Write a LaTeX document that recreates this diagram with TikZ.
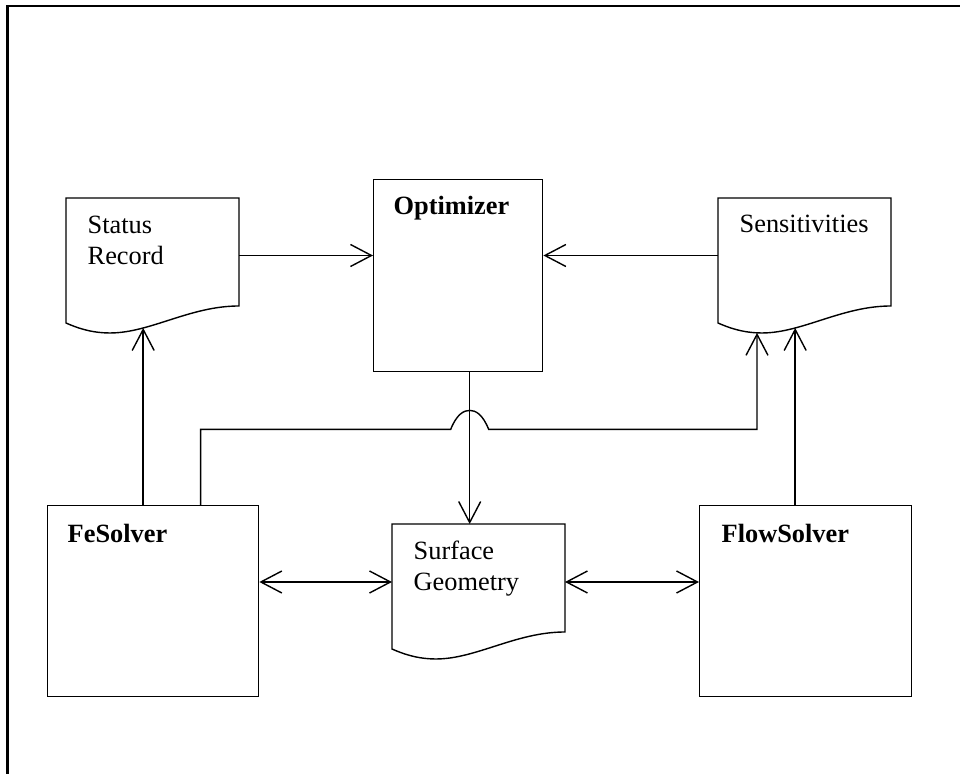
\documentclass[tikz,border=0pt]{standalone}
\usepackage{fontspec}
\setmainfont{Liberation Serif}
\usepackage{tikz}
\usetikzlibrary{positioning}
\usetikzlibrary{arrows.meta}
\usetikzlibrary{calc}

% outline of a document with a wavy lower edge
\newcommand{\docshape}[1]{%
  \draw (#1.north west) -- (#1.north east) -- (#1.south east)
     .. controls ($(#1.south east)+(-49,0)$) and ($(#1.south west)+(84,27)$) .. ($(#1.south west)+(44,27)$)
     coordinate[pos=0.725] (#1-a)
     .. controls ($(#1.south west)+(24,27)$) and ($(#1.south west)+(9,21)$) .. ($(#1.south west)+(0,17)$)
     coordinate[pos=0.085] (#1-b)
     -- cycle;}

\begin{document}
\begin{tikzpicture}[
            x = 0.02cm, y = -0.02cm, % one unit is one pixel of the sketch
            > = {Straight Barb[length=0.42cm, width=0.44cm]}, % open arrow head
            line width = 0.8pt,
            every node/.style = {font=\fontsize{15pt}{18.1pt}\selectfont}
            ]

        \tikzstyle{docbox}=[
            draw = none,
            inner sep = 0pt,
            outer sep = 0pt,
            minimum width = 3.46cm,
            minimum height = 2.16cm,
            anchor = north west
        ]
        \tikzstyle{procbox}=[
            draw,
            inner sep = 0pt,
            anchor = north west
        ]
        \tikzstyle{boxtext}=[inner sep = 0pt, align = left]

        \useasboundingbox (0,0) rectangle (960,774);

        % page frame
        \draw[line width = 1.2pt] (7.5,774) -- (7.5,6) -- (960,6);

	% documents
	\node[docbox] (SR) at (66,198) {};
	\docshape{SR}
	\node[boxtext, below right = 1.34cm and 0.42cm of SR.north west, anchor = base west] (SRtext) {Status\\Record};

	\node[docbox] (SS) at (718,198) {};
	\docshape{SS}
	\node[boxtext, below right = 0.7cm and 0.42cm of SS.north west, anchor = base west] (SStext) {Sensitivities};

	\node[docbox] (SG) at (392,524) {};
	\docshape{SG}
	\node[boxtext, below right = 1.34cm and 0.42cm of SG.north west, anchor = base west] (SGtext) {Surface\\Geometry};

        % programs
         \node[procbox, minimum width = 3.38cm, minimum height = 3.84cm] (OPT) at (373,179) {};
         \node[boxtext, below right = 0.72cm and 0.4cm of OPT.north west, anchor = base west] (OPTtext) {\textbf{Optimizer}};

         \node[procbox, minimum width = 4.22cm, minimum height = 3.82cm] (FE) at (47,505) {};
         \node[boxtext, below right = 0.74cm and 0.4cm of FE.north west, anchor = base west] (FEtext) {\textbf{FeSolver}};

         \node[procbox, minimum width = 4.24cm, minimum height = 3.82cm] (FL) at (699,505) {};
         \node[boxtext, below right = 0.74cm and 0.44cm of FL.north west, anchor = base west] (FLtext) {\textbf{FlowSolver}};

         % data flow
         \draw[->] ([yshift=-0.07cm]SR.east) -- ([yshift=-0.07cm]SR.east -| OPT.west);
         \draw[->] ([yshift=-0.07cm]SS.west) -- ([yshift=-0.07cm]SS.west -| OPT.east);
         \draw[->] ([xshift=0.23cm]OPT.south) -- ([xshift=0.23cm]OPT.south |- SG.north);

         \draw[->] (FE.north -| SR-a) -- (SR-a);
         \draw[->] (FL.north -| SS-a) -- (SS-a);

         \coordinate (hop) at ([xshift=0.23cm, yshift=-1.14cm]OPT.south);
         \draw[->] ([xshift=0.95cm]FE.north) |- ([xshift=-0.38cm]hop)
             .. controls ([xshift=-0.26cm, yshift=0.3cm]hop) and ([xshift=-0.12cm, yshift=0.38cm]hop) .. ([yshift=0.38cm]hop)
             .. controls ([xshift=0.12cm, yshift=0.38cm]hop) and ([xshift=0.26cm, yshift=0.3cm]hop) .. ([xshift=0.38cm]hop)
             -| (SS-b);

         \draw[<->] ([yshift=-0.08cm]SG.west -| FE.east) -- ([yshift=-0.08cm]SG.west);
         \draw[<->] ([yshift=-0.08cm]SG.east) -- ([yshift=-0.08cm]SG.east -| FL.west);

  \end{tikzpicture}
\end{document}
